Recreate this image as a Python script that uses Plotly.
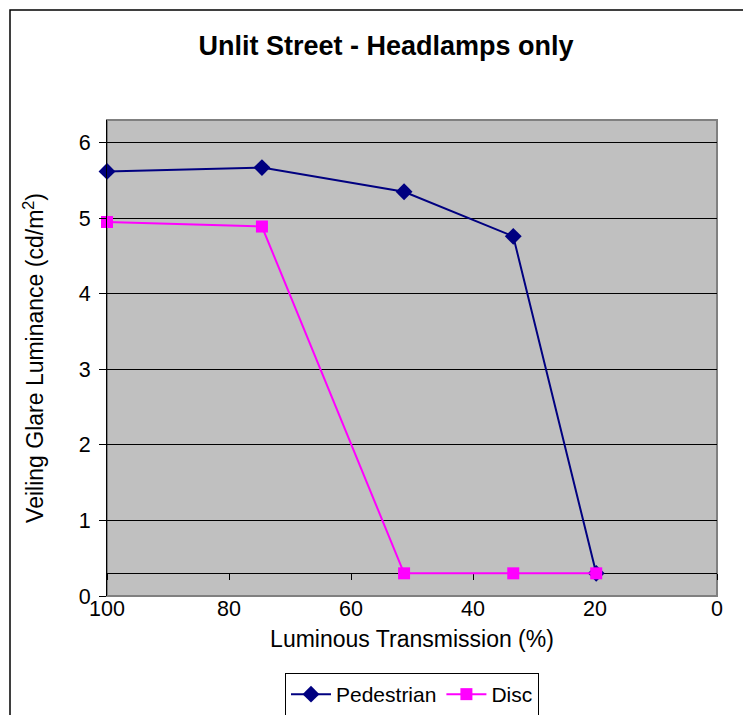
import plotly.graph_objects as go

# Luminous transmission of the filter (%)
transmission = [100, 74.6, 51.3, 33.4, 19.8]

# Veiling glare luminance (cd/m^2) for each target
pedestrian = [5.62, 5.67, 5.35, 4.76, 0.30]
disc = [4.95, 4.89, 0.30, 0.30, 0.30]

x_ticks = [100, 80, 60, 40, 20, 0]
y_ticks = [0, 1, 2, 3, 4, 5, 6]
y_max = 6.3
x_cross = 0.3  # value where the category axis crosses the value axis

FONT = "Liberation Sans, Arial, sans-serif"

fig = go.Figure()

fig.add_trace(go.Scatter(
    x=transmission, y=pedestrian, name="Pedestrian", mode="lines+markers",
    line=dict(color="#000080", width=2),
    marker=dict(symbol="diamond", size=13, color="#000080"),
    cliponaxis=False,
))
fig.add_trace(go.Scatter(
    x=transmission, y=disc, name="Disc", mode="lines+markers",
    line=dict(color="#FF00FF", width=2),
    marker=dict(symbol="square", size=12, color="#FF00FF"),
    cliponaxis=False,
))
# empty trace so the crossing axis is rendered
fig.add_trace(go.Scatter(x=[], y=[], xaxis="x2", showlegend=False, hoverinfo="skip"))

W, H = 743, 715
ml, mr, mt, mb = 107, 26, 120, 119
pw, ph = W - ml - mr, H - mt - mb

fig.update_layout(
    width=W, height=H,
    margin=dict(l=ml, r=mr, t=mt, b=mb),
    paper_bgcolor="white",
    plot_bgcolor="#C0C0C0",
    font=dict(family=FONT, size=21, color="black"),
    title=dict(
        text="<b>Unlit Street - Headlamps only</b>",
        font=dict(family=FONT, size=27, color="black"),
        x=386 / W, xanchor="center",
        y=1 - 46 / H, yanchor="middle",
    ),
    xaxis=dict(
        range=[100, 0], tickvals=x_ticks, ticks="", showgrid=False,
        zeroline=False, showline=False, automargin=False,
        tickfont=dict(size=21.5), ticklabelstandoff=-3,
        title=dict(text="Luminous Transmission (%)", font=dict(size=23), standoff=11),
    ),
    xaxis2=dict(
        overlaying="x", matches="x", anchor="free", position=x_cross / y_max,
        showline=True, linecolor="black", linewidth=1,
        ticks="outside", ticklen=6, tickcolor="black", tickwidth=1,
        tickvals=x_ticks, showticklabels=False, showgrid=False, zeroline=False,
        layer="below traces",
    ),
    yaxis=dict(
        range=[0, y_max], tickvals=y_ticks, showgrid=True,
        gridcolor="black", gridwidth=1, zeroline=False,
        showline=True, linecolor="black", linewidth=1, automargin=False,
        ticks="outside", ticklen=7, tickcolor="black",
        tickfont=dict(size=21.5), ticklabelstandoff=4,
        title=dict(text="Veiling Glare Luminance (cd/m<sup>2</sup>)",
                   font=dict(size=23), standoff=28),
    ),
    legend=dict(
        orientation="h", x=412 / W, xanchor="center", xref="container",
        y=(H - 673) / H, yanchor="top", yref="container",
        bordercolor="black", borderwidth=1, bgcolor="white",
        font=dict(size=21), itemwidth=40,
    ),
    shapes=[
        # plot area border
        dict(type="rect", xref="paper", yref="paper", x0=0, y0=0, x1=1, y1=1,
             line=dict(color="#808080", width=2), layer="below"),
        # chart frame
        dict(type="rect", xref="paper", yref="paper",
             x0=(10 - ml) / pw, y0=-0.5, x1=1.5, y1=(H - mb - 10) / ph,
             line=dict(color="black", width=1.5)),
    ],
)

fig.write_html("out.html")
